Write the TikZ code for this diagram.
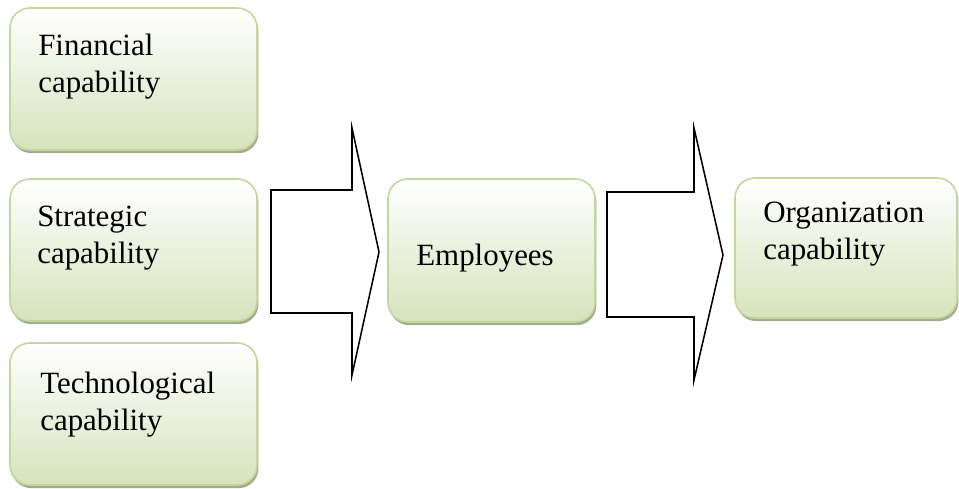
\documentclass[tikz,border=0pt]{standalone}
\usepackage{fontspec}
\setmainfont{Liberation Serif}
\usetikzlibrary{shadows}

\definecolor{capgreen}{HTML}{D6E3BC}
\definecolor{capborder}{HTML}{C3D69B}
\definecolor{capshadow}{HTML}{A3AC8C}

\tikzset{
	capbox/.style={draw=capborder, line width=1.1pt, rounded corners=14pt,
		top color=white, bottom color=capgreen,
		drop shadow={shadow xshift=1pt, shadow yshift=-2.2pt, fill=capshadow, opacity=1}},
	captext/.style={anchor=north west, inner sep=0pt, align=left,
		font=\fontsize{22}{26.2}\selectfont},
	blockarrow/.style={draw=black, line width=1.1pt, fill=white, line join=miter}
}

\begin{document}
\begin{tikzpicture}[x=0.025cm, y=-0.025cm]
		\useasboundingbox (0,0) rectangle (959,488);
		\def\capW{247};
		\def\capH{142};
		\def\empW{207};
		
		%capability boxes
		\draw[capbox] (10,8) rectangle ++(\capW,\capH);
		\node (financial) [captext] at (38,34) {Financial\\capability};
		
		\draw[capbox] (10,179) rectangle ++(\capW,\capH);
		\node (strategic) [captext] at (37,206) {Strategic\\capability};
		
		\draw[capbox] (10,343) rectangle ++(\capW,\capH);
		\node (technological) [captext] at (40,372) {Technological\\capability};
		
		%first arrow
		\draw[blockarrow] (271,190) -- (352,190) -- (352,128) -- (379,252)
			-- (352,375) -- (352,313) -- (271,313) -- cycle;
		
		%employees
		\draw[capbox] (388,179) rectangle ++(\empW,143);
		\node (employees) [captext] at (416,244) {Employees};
		
		%second arrow
		\draw[blockarrow] (607,192) -- (694,192) -- (694,128) -- (723,255)
			-- (694,380) -- (694,317) -- (607,317) -- cycle;
		
		%organization
		\draw[capbox] (735,178) rectangle (957,318);
		\node (organization) [captext] at (763,202) {Organization\\capability};
	
	\end{tikzpicture}
\end{document}
